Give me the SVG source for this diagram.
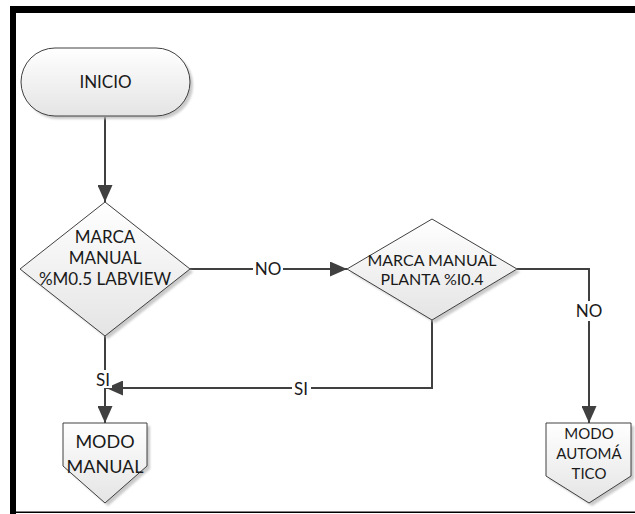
<svg xmlns="http://www.w3.org/2000/svg" width="635" height="514" viewBox="0 0 635 514">
  <defs>
    <linearGradient id="shapeFill" x1="0" y1="0" x2="0" y2="1">
      <stop offset="0" stop-color="#ffffff"/>
      <stop offset="1" stop-color="#e4e4e4"/>
    </linearGradient>
    <filter id="soft" x="-10%" y="-10%" width="130%" height="130%">
      <feGaussianBlur stdDeviation="1.2"/>
    </filter>
    <marker id="arrow" viewBox="0 0 17 15" refX="17" refY="7.5" markerWidth="17" markerHeight="15" markerUnits="userSpaceOnUse" orient="auto">
      <path d="M0,0 L17,7.5 L0,15 z" fill="#404040"/>
    </marker>
  </defs>
  <style>
    .shape { fill: url(#shapeFill); stroke: #404040; stroke-width: 1; }
    .shadow { fill: #b8b8b8; opacity: 0.75; filter: url(#soft); }
    .txt { font-family: Lato, "Liberation Sans", sans-serif; fill: #1a1a1a; text-anchor: middle; }
    .wire { fill: none; stroke: #404040; stroke-width: 2; }
    .lbl-bg { fill: #ffffff; }
  </style>

  <!-- page frame -->
  <rect x="10" y="6" width="625" height="7" fill="#000"/>
  <rect x="10" y="6" width="6" height="508" fill="#000"/>
  <rect x="16" y="511.5" width="619" height="1.5" fill="#000"/>

  <!-- connectors -->
  <g id="connectors">
    <path class="wire" d="M105,117 V202" marker-end="url(#arrow)"/>
    <path class="wire" d="M190,269 H347" marker-end="url(#arrow)"/>
    <path class="wire" d="M517,269 H589 V423" marker-end="url(#arrow)"/>
    <path class="wire" d="M432,320 V388 H106" marker-end="url(#arrow)"/>
    <path class="wire" d="M105,336 V423" marker-end="url(#arrow)"/>

    <rect class="lbl-bg" x="253" y="260" width="30" height="18"/>
    <text class="txt" x="268" y="275" font-size="17">NO</text>

    <rect class="lbl-bg" x="576" y="301" width="26" height="20"/>
    <text class="txt" x="589" y="317" font-size="17">NO</text>

    <rect class="lbl-bg" x="292" y="379" width="19" height="18"/>
    <text class="txt" x="301" y="395" font-size="17">SI</text>

    <rect class="lbl-bg" x="94" y="370" width="18" height="18"/>
    <text class="txt" x="103" y="386" font-size="17">SI</text>
  </g>

  <!-- start terminator -->
  <g id="inicio">
    <rect class="shadow" x="24" y="51" width="169" height="68" rx="34"/>
    <rect class="shape" x="21" y="48" width="169" height="68" rx="34"/>
    <text class="txt" x="105.5" y="88" font-size="17">INICIO</text>
  </g>

  <!-- decision: manual flag from LabVIEW -->
  <g id="decision-labview">
    <path class="shadow" d="M108,205 L193,272 L108,339 L23,272 z"/>
    <path class="shape" d="M105,202 L190,269 L105,336 L20,269 z"/>
    <text class="txt" x="105" y="243" font-size="17">MARCA</text>
    <text class="txt" x="105" y="264" font-size="17">MANUAL</text>
    <text class="txt" x="105" y="285" font-size="17">%M0.5 LABVIEW</text>
  </g>

  <!-- decision: manual flag from plant -->
  <g id="decision-planta">
    <path class="shadow" d="M435,222 L520,272 L435,323 L350,272 z"/>
    <path class="shape" d="M432,219 L517,269 L432,320 L347,269 z"/>
    <text class="txt" x="432" y="266" font-size="16">MARCA MANUAL</text>
    <text class="txt" x="432" y="285" font-size="16">PLANTA %I0.4</text>
  </g>

  <!-- off-page connector: manual mode -->
  <g id="modo-manual">
    <path class="shadow" d="M66,426 H150 V469 L108,506 L66,469 z"/>
    <path class="shape" d="M63,423 H147 V466 L105,503 L63,466 z"/>
    <text class="txt" x="105" y="448" font-size="18">MODO</text>
    <text class="txt" x="105" y="473" font-size="18">MANUAL</text>
  </g>

  <!-- off-page connector: automatic mode -->
  <g id="modo-automatico">
    <path class="shadow" d="M549,426 H634 V479 L592,506 L549,479 z"/>
    <path class="shape" d="M546,423 H631 V476 L589,503 L546,476 z"/>
    <text class="txt" x="589" y="438.5" font-size="15">MODO</text>
    <text class="txt" x="589" y="458.5" font-size="15">AUTOMÁ</text>
    <text class="txt" x="589" y="478.5" font-size="15">TICO</text>
  </g>
</svg>
